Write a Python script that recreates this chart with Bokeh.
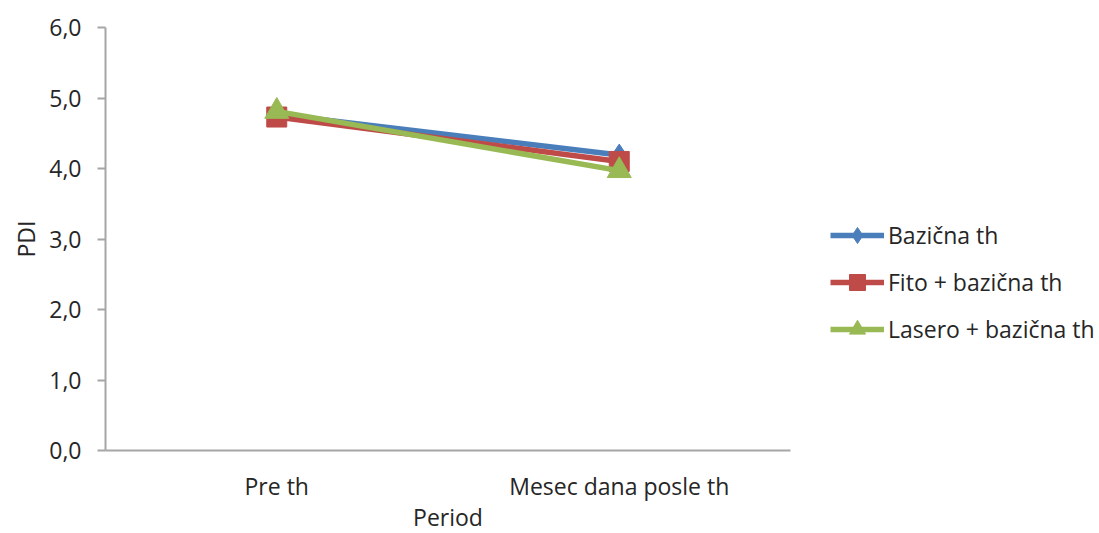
from bokeh.plotting import figure
from bokeh.models import Legend, LegendItem, FixedTicker, CustomJSTickFormatter
from bokeh.embed import file_html
from bokeh.resources import INLINE

# PDI values by period for each treatment group
periods = ["Pre th", "Mesec dana posle th"]
bazicna = [4.77, 4.19]
fito = [4.73, 4.10]
lasero = [4.81, 3.97]
series_names = ["Bazična th", "Fito + bazična th", "Lasero + bazična th"]
y_ticks = [0, 1, 2, 3, 4, 5, 6]

FONT = "Open Sans"
TEXT = "#262626"
FS = "23px"

p = figure(
    width=1099, height=533,
    x_range=periods, y_range=(0, 6),
    output_backend="svg", toolbar_location=None,
    min_border_left=105, min_border_right=309,
    min_border_top=27, min_border_bottom=83,
)
p.frame_width = 685
p.frame_height = 423

p.outline_line_color = None
p.grid.grid_line_color = None
p.background_fill_color = "white"
p.border_fill_color = "white"

# y axis
p.yaxis.ticker = FixedTicker(ticks=y_ticks)
p.yaxis.formatter = CustomJSTickFormatter(code="return tick.toFixed(1).replace('.', ',');")
p.yaxis.axis_label = "PDI"
p.yaxis.major_tick_out = 8
p.yaxis.major_tick_in = 0
p.yaxis.minor_tick_out = 0
p.yaxis.minor_tick_in = 0
p.yaxis.major_label_standoff = 16
p.yaxis.axis_label_standoff = 4

# x axis
p.xaxis.axis_label = "Period"
p.xaxis.major_tick_out = 0
p.xaxis.major_tick_in = 0
p.xaxis.major_label_standoff = 19
p.xaxis.axis_label_standoff = -4

for ax in (p.xaxis, p.yaxis):
    ax.axis_line_color = "#a6a6a6"
    ax.axis_line_width = 2
    ax.major_tick_line_color = "#a6a6a6"
    ax.major_tick_line_width = 2
    ax.major_label_text_font = FONT
    ax.major_label_text_font_size = FS
    ax.major_label_text_color = TEXT
    ax.axis_label_text_font = FONT
    ax.axis_label_text_font_size = FS
    ax.axis_label_text_font_style = "normal"
    ax.axis_label_text_color = TEXT

colors = ["#4A7EBB", "#BE4B48", "#98B954"]
markers = ["diamond", "square", "triangle"]
sizes = [22, 20, 24]
values = [bazicna, fito, lasero]

items = []
for name, vals, color, marker, size in zip(series_names, values, colors, markers, sizes):
    ln = p.line(periods, vals, line_color=color, line_width=5.5)
    sc = p.scatter(periods, vals, marker=marker, size=size,
                   fill_color=color, line_color=color)
    items.append(LegendItem(label=name, renderers=[ln, sc]))

legend = Legend(
    items=items,
    location=(40, 101),
    glyph_width=54, glyph_height=40,
    label_height=40, spacing=7, padding=0, margin=0,
    label_standoff=4,
    label_text_font=FONT, label_text_font_size=FS,
    label_text_color=TEXT,
    border_line_color=None, background_fill_alpha=0,
)
p.add_layout(legend, "right")

open("out.html", "w").write(file_html(p, INLINE))
